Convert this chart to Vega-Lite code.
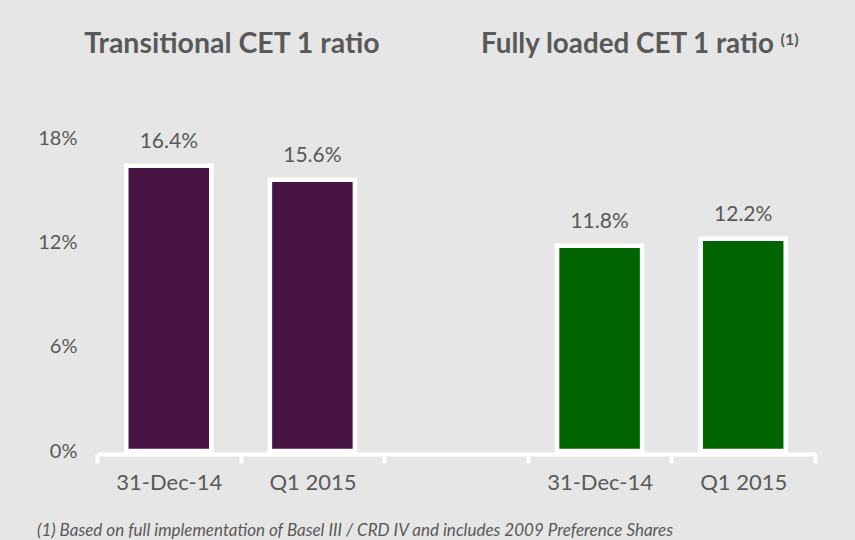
{
  "$schema": "https://vega.github.io/schema/vega-lite/v6.json",
  "width": 718,
  "height": 313,
  "autosize": {"type": "none"},
  "padding": {"left": 97, "top": 138, "right": 40, "bottom": 89},
  "background": "#e6e6e6",
  "config": {"view": {"stroke": null}, "font": "Lato"},
  "title": {
    "text": "(1) Based on full implementation of Basel III / CRD IV and includes 2009 Preference Shares",
    "orient": "bottom",
    "anchor": "start",
    "frame": "group",
    "dx": -60,
    "offset": 30,
    "baseline": "top",
    "font": "Lato",
    "fontStyle": "italic",
    "fontWeight": "normal",
    "fontSize": 17,
    "color": "#595959"
  },
  "data": {
    "values": [
      {"key": "T1", "group": "Transitional", "value": 0.164},
      {"key": "T2", "group": "Transitional", "value": 0.156},
      {"key": "F1", "group": "Fully loaded", "value": 0.118},
      {"key": "F2", "group": "Fully loaded", "value": 0.122}
    ]
  },
  "layer": [
    {
      "mark": {"type": "bar", "stroke": "white", "strokeWidth": 4.5, "width": {"band": 0.592}},
      "encoding": {
        "x": {
          "field": "key",
          "type": "nominal",
          "scale": {"domain": ["T1", "T2", "G", "F1", "F2"], "paddingInner": 0, "paddingOuter": 0},
          "axis": {
            "title": null,
            "labelExpr": "datum.value == 'T1' || datum.value == 'F1' ? '31-Dec-14' : (datum.value == 'T2' || datum.value == 'F2' ? 'Q1 2015' : '')",
            "labelAngle": 0,
            "labelFontSize": 22,
            "labelColor": "#595959",
            "labelPadding": 9,
            "domainColor": "white",
            "domainWidth": 4,
            "tickColor": "white",
            "tickWidth": 4,
            "tickSize": 9,
            "tickBand": "extent",
            "offset": 3
          }
        },
        "y": {
          "field": "value",
          "type": "quantitative",
          "scale": {"domain": [0, 0.18], "nice": false},
          "axis": {
            "title": null,
            "values": [0, 0.06, 0.12, 0.18],
            "format": ".0%",
            "grid": false,
            "domain": false,
            "ticks": false,
            "labelPadding": 20,
            "labelFontSize": 20,
            "labelColor": "#595959"
          }
        },
        "color": {
          "field": "group",
          "type": "nominal",
          "scale": {"domain": ["Transitional", "Fully loaded"], "range": ["#461342", "#006400"]},
          "legend": null
        }
      }
    },
    {
      "mark": {"type": "text", "baseline": "alphabetic", "dy": -18, "fontSize": 21, "color": "#595959"},
      "encoding": {
        "x": {"field": "key", "type": "nominal"},
        "y": {"field": "value", "type": "quantitative"},
        "text": {"field": "value", "type": "quantitative", "format": ".1%"}
      }
    },
    {
      "data": {"values": [{}]},
      "mark": {"type": "text", "align": "center", "baseline": "alphabetic", "fontSize": 28.5, "fontWeight": "bold", "color": "#595959"},
      "encoding": {
        "x": {"datum": "T1", "type": "nominal", "bandPosition": 0.94},
        "y": {"datum": 0.2289, "type": "quantitative"},
        "text": {"value": "Transitional CET 1 ratio"}
      }
    },
    {
      "data": {"values": [{}]},
      "mark": {"type": "text", "align": "left", "baseline": "alphabetic", "fontSize": 27.8, "fontWeight": "bold", "color": "#595959"},
      "encoding": {
        "x": {"datum": "F1", "type": "nominal", "bandPosition": -0.326},
        "y": {"datum": 0.2289, "type": "quantitative"},
        "text": {"value": "Fully loaded CET 1 ratio"}
      }
    },
    {
      "data": {"values": [{}]},
      "mark": {"type": "text", "align": "left", "baseline": "alphabetic", "fontSize": 16, "fontWeight": "bold", "color": "#595959"},
      "encoding": {
        "x": {"datum": "F2", "type": "nominal", "bandPosition": 0.76},
        "y": {"datum": 0.2335, "type": "quantitative"},
        "text": {"value": "(1)"}
      }
    }
  ]
}
